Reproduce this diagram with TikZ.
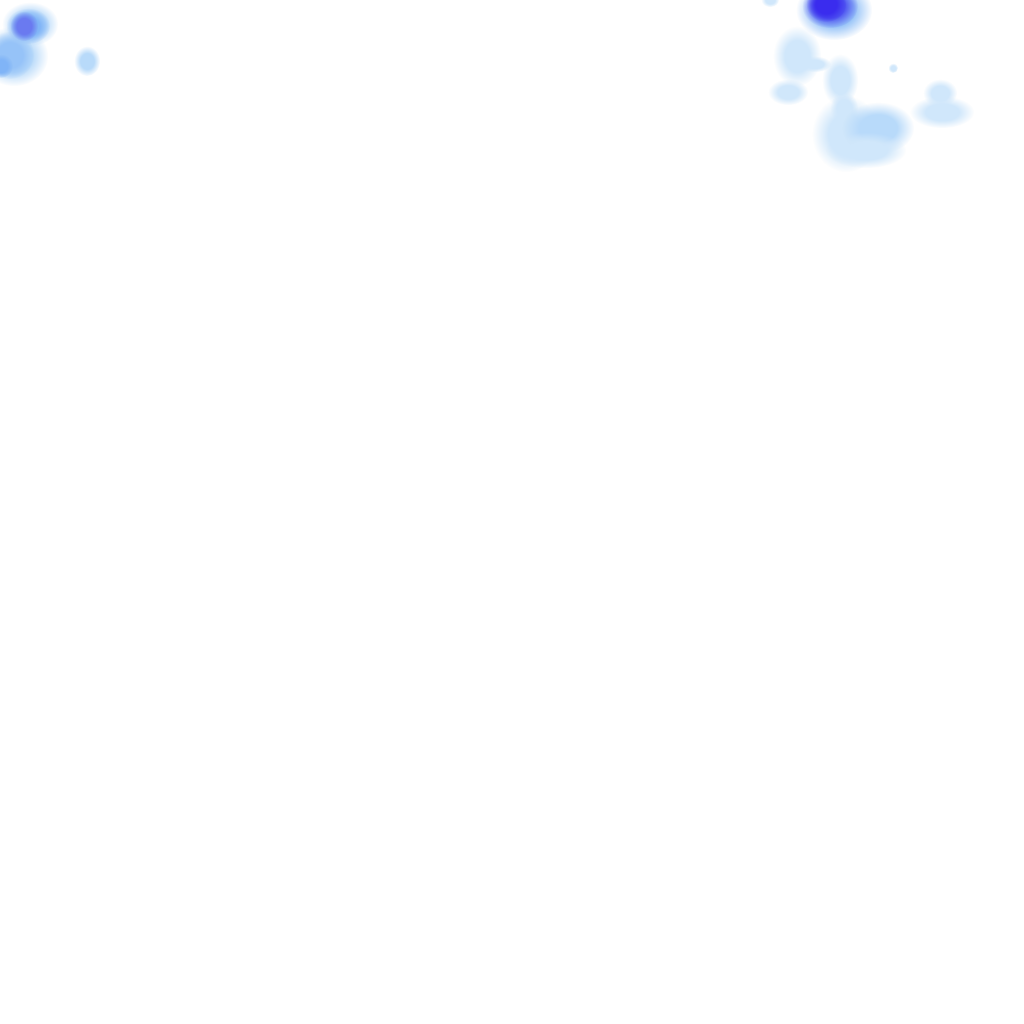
\documentclass[tikz,border=0pt]{standalone}
\usepackage{tikz}
\usetikzlibrary{fadings}
\definecolor{paleblue}{HTML}{D0E7FB}
\definecolor{lightblue}{HTML}{B8DAFA}
\definecolor{midblue}{HTML}{80B4F7}
\definecolor{violetblue}{HTML}{6A7AF0}
\definecolor{deepblue}{HTML}{3A2CEE}
\pgfdeclareradialshading{softshade}{\pgfpointorigin}{color(0bp)=(pgftransparent!0);
    color(13bp)=(pgftransparent!0); color(25bp)=(pgftransparent!100);
    color(50bp)=(pgftransparent!100)}
\pgfdeclarefading{softedge}{\pgfuseshading{softshade}}
\tikzset{
        blob/.style={path fading=softedge},
        paleblob/.style={blob, fill=paleblue},
        lightblob/.style={blob, fill=lightblue},
 }

\begin{document}
\begin{tikzpicture}[x=0.25mm, y=-0.25mm]
    \useasboundingbox (0,0) rectangle (1024,1024);
    \clip (0,0) rectangle (1024,1024);
    \fill[white] (0,0) rectangle (1024,1024);

    % upper left cluster
    \fill[lightblob] (30,24) ellipse [x radius=28, y radius=22];
    \fill[lightblob] (14,56) ellipse [x radius=34, y radius=30];
    \fill[blob, fill=midblue] (28,26) ellipse [x radius=22, y radius=18];
    \fill[blob, fill=midblue!60!lightblue] (10,55) ellipse [x radius=24, y radius=24];
    \fill[blob, fill=violetblue] (24,26) ellipse [x radius=14, y radius=15];
    \fill[blob, fill=midblue] (1,66) ellipse [x radius=12, y radius=12];
    \fill[lightblob] (87,61) ellipse [x radius=13, y radius=15];

    % upper right cluster
    \fill[blob, fill=midblue!60!lightblue] (834,10) ellipse [x radius=38, y radius=30];
    \fill[blob, fill=deepblue!70!midblue] (830,6) ellipse [x radius=28, y radius=22];
    \fill[blob, fill=deepblue] (826,4) ellipse [x radius=20, y radius=18];
    \fill[paleblob] (770,0) ellipse [x radius=9, y radius=7];
    \fill[paleblob] (797,56) ellipse [x radius=24, y radius=30];
    \fill[paleblob] (815,64) ellipse [x radius=16, y radius=8];
    \fill[paleblob] (788,92) ellipse [x radius=20, y radius=13];
    \fill[paleblob] (840,80) ellipse [x radius=18, y radius=26];
    \fill[paleblob] (844,108) ellipse [x radius=14, y radius=16];
    \fill[paleblob] (846,134) ellipse [x radius=34, y radius=38];
    \fill[lightblob] (878,128) ellipse [x radius=36, y radius=26];
    \fill[paleblob] (866,150) ellipse [x radius=40, y radius=18];
    \fill[paleblob] (893,68) ellipse [x radius=5, y radius=5];
    \fill[paleblob] (940,93) ellipse [x radius=17, y radius=14];
    \fill[paleblob] (942,112) ellipse [x radius=32, y radius=16];
\end{tikzpicture}
\end{document}
